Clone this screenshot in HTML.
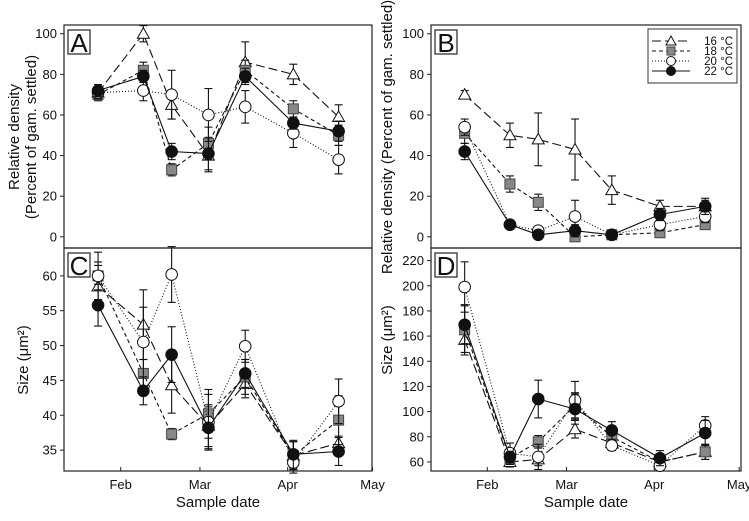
<!DOCTYPE html>
<html><head><meta charset="utf-8"><style>
body{margin:0;background:#fff}
svg text{font-family:"Liberation Sans",sans-serif;fill:#111}
</style></head><body>
<svg id="chart" width="749" height="516" xmlns="http://www.w3.org/2000/svg"></svg>
<script>
const sampleDays=[24,40,50,63,76,93,109];
const series=["16 °C","18 °C","20 °C","22 °C"];
const aVals=[[71,100,65,40,86,80,59],[70,82,33,46,82,63,50],[71,72,70,60,64,51,38],[72,79,42,41,79,56,52]];
const aErr=[[3,4,7,8,10,5,6],[3,4,3,8,5,4,5],[3,5,12,13,8,7,7],[3,3,4,8,4,3,5]];
const bVals=[[70,50,48,43,23,15,15],[51,26,17,0,1,2,6],[54,6,3,10,1,6,10],[42,6,1,3,1,11,15]];
const bErr=[[2,6,13,15,7,3,3],[5,4,4,1,2,2,2],[4,2,1,8,1,3,3],[4,1,1,3,1,3,4]];
const cVals=[[58.5,53,44.3,38.5,44.5,34.2,36],[60,46,37.3,40.2,45.5,34.2,39.3],[60,50.5,60.2,39,49.9,33.2,42],[55.8,43.5,48.7,38.2,46,34.4,34.8]];
const cErr=[[3,5,4,3,2,2,1],[2,2,0.8,3.5,2.5,2,3.5],[3.4,5,4,4,2.3,1.5,3.2],[3,2,4,3,2,2,2]];
const dVals=[[157,60,62,86,75,60,68],[165,63,76,105,80,60,68],[199,67,64,109,73,57,89],[169,64,110,102,85,63,83]];
const dErr=[[10,4,5,7,5,5,6],[20,5,5,10,5,5,6],[20,8,10,15,4,3,7],[15,4,15,12,7,6,10]];
const aTicks=[0,20,40,60,80,100];
const cTicks=[35,40,45,50,55,60];
const dTicks=[60,80,100,120,140,160,180,200,220];
const monthDays=[32,60,91,121];
const monthLabels=["Feb","Mar","Apr","May"];

const NS="http://www.w3.org/2000/svg";
const svg=document.getElementById('chart');
function el(tag,attrs,parent,text){const e=document.createElementNS(NS,tag);for(const k in attrs)e.setAttribute(k,attrs[k]);if(text!==undefined)e.textContent=text;(parent||svg).appendChild(e);return e;}
const dash=["9,4","4,3","1,2",""];
const names=["16c","18c","20c","22c"];
const fills=["#fff","#888","#fff","#111"];

function panel(key,x0,x1,y0,y1,vmin,vmax,ticks,vals,errs,label,xaxis,febX){
  const g=el('g',{});
  
  
  const sx=d=>febX+(d-32)*2.83;
  const sy=v=>y1-(v-vmin)/(vmax-vmin)*(y1-y0);
  const fr=el('rect',{x:x0,y:y0,width:x1-x0,height:y1-y0,fill:'none',stroke:'#222','stroke-width':1.2},g);
  
  
  ticks.forEach(t=>{
    const y=sy(t);
    el('line',{x1:x0-4,x2:x0,y1:y,y2:y,stroke:'#222'},g);
    const tx=el('text',{x:x0-7,y:y+4.5,'text-anchor':'end','font-size':13},g,t);
    
    
  });
  if(xaxis){monthDays.forEach((d,i)=>{
    const x=sx(d);
    el('line',{x1:x,x2:x,y1:y1,y2:y1-4,stroke:'#222'},g);
    const tx=el('text',{x:x,y:y1+18,'text-anchor':'middle','font-size':13},g,monthLabels[i]);
    
    
  });}
  const lb=el('g',{},g);
  
  
  el('rect',{x:x0+4,y:y0+5,width:22,height:24,fill:'#fff',stroke:'#222','stroke-width':1.2},lb);
  el('text',{x:x0+15,y:y0+27,'text-anchor':'middle','font-size':26},lb,label);
  vals.forEach((s,si)=>{
    const sg=el('g',{},g);
    
    
    const pts=s.map((v,i)=>[sx(sampleDays[i]),sy(v)]);
    el('polyline',{points:pts.map(p=>p.join(',')).join(' '),fill:'none',stroke:'#111','stroke-width':1.1,'stroke-dasharray':dash[si]},sg);
    s.forEach((v,i)=>{
      const x=sx(sampleDays[i]);const e=errs[si][i];
      const ya=Math.max(sy(v+e),y0-20),yb=sy(v-e);
      el('line',{x1:x,x2:x,y1:ya,y2:yb,stroke:'#111','stroke-width':1.1},sg);
      el('line',{x1:x-4,x2:x+4,y1:ya,y2:ya,stroke:'#111','stroke-width':1.1},sg);
      el('line',{x1:x-4,x2:x+4,y1:yb,y2:yb,stroke:'#111','stroke-width':1.1},sg);
    });
    pts.forEach(p=>{
      let m;
      if(si===0)m=el('polygon',{points:`${p[0]},${p[1]-6} ${p[0]-6},${p[1]+4.5} ${p[0]+6},${p[1]+4.5}`,fill:'#fff',stroke:'#111'},sg);
      else if(si===1)m=el('rect',{x:p[0]-5,y:p[1]-5,width:10,height:10,fill:'#888',stroke:'#444'},sg);
      else m=el('circle',{cx:p[0],cy:p[1],r:5.8,fill:fills[si],stroke:'#111'},sg);
      
      
    });
  });
  return g;
}
panel('a',64,372,25,248,-5.5,104.3,aTicks,aVals,aErr,'A',false,120.7);
panel('b',431,741,25,248,-5.5,104.3,aTicks,bVals,bErr,'B',false,487.3);
panel('c',64,372,248,471,32,64,cTicks,cVals,cErr,'C',true,120.7);
panel('d',431,741,248,471,52.8,230,dTicks,dVals,dErr,'D',true,487.3);

function t(txt,attrs,name){const e=el('text',attrs,svg,txt);return e;}
t('Relative density',{x:0,y:0,transform:'translate(19,137) rotate(-90)','text-anchor':'middle','font-size':15},'y-axis-title-a');
t('(Percent of gam. settled)',{x:0,y:0,transform:'translate(36,137) rotate(-90)','text-anchor':'middle','font-size':15},'y-axis-title-a-sub');
t('Relative density (Percent of gam. settled)',{x:0,y:0,transform:'translate(392,137) rotate(-90)','text-anchor':'middle','font-size':15},'y-axis-title-b');
t('Size (μm²)',{x:0,y:0,transform:'translate(28,360) rotate(-90)','text-anchor':'middle','font-size':15},'y-axis-title-c');
t('Size (μm²)',{x:0,y:0,transform:'translate(392,340) rotate(-90)','text-anchor':'middle','font-size':15},'y-axis-title-d');
t('Sample date',{x:218,y:507,'text-anchor':'middle','font-size':15},'x-axis-title-c');
t('Sample date',{x:586,y:507,'text-anchor':'middle','font-size':15},'x-axis-title-d');

const lg=el('g',{});


el('rect',{x:648,y:29,width:89,height:54,fill:'#fff',stroke:'#333','stroke-width':1},lg);
series.forEach((s,i)=>{
  const y=41+i*10;
  const e=el('g',{},lg);
  
  
  el('line',{x1:652,x2:690,y1:y,y2:y,stroke:'#111','stroke-dasharray':dash[i]},e);
  if(i===0)el('polygon',{points:`671,${y-5} 666,${y+4} 676,${y+4}`,fill:'#fff',stroke:'#111'},e);
  else if(i===1)el('rect',{x:667,y:y-4,width:8,height:8,fill:'#888',stroke:'#444'},e);
  else el('circle',{cx:671,cy:y,r:4.5,fill:fills[i],stroke:'#111'},e);
  el('text',{x:733,y:y+4,'text-anchor':'end','font-size':11.5},e,s);
});
</script>
</body></html>
